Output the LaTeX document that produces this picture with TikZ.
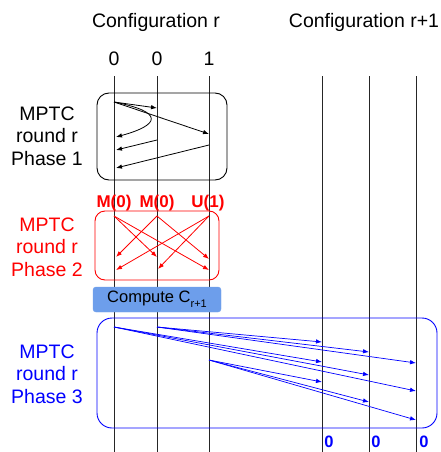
\documentclass[tikz,border=0pt]{standalone}
\usepackage{fontspec}
\setmainfont{Liberation Sans}
\usetikzlibrary{arrows.meta}
\definecolor{cbox}{RGB}{109,158,235}
\definecolor{myred}{RGB}{255,0,0}
\definecolor{myblue}{RGB}{0,0,255}
\begin{document}
\begin{tikzpicture}[x=1pt,y=-1pt,
  vline/.style={draw=black!85, line width=0.9pt},
  arr/.style={-{Latex[length=6pt,width=4.5pt]}, line width=0.8pt},
  lbl/.style={font=\fontsize{19.5}{22.5}\selectfont, align=center, inner sep=0pt},
  mlbl/.style={font=\fontsize{17}{20}\selectfont\bfseries, text=myred, inner sep=0pt, anchor=base},
  zlbl/.style={font=\fontsize{16.5}{20}\selectfont\bfseries, text=myblue, inner sep=0pt, anchor=base},
  phasebox/.style={draw, line width=0.9pt, inner sep=0pt}
]
\useasboundingbox (0,0) rectangle (441,452);
% vertical lines
\foreach \n/\x in {1/114,2/157,3/209,4/322,5/369,6/416}{
  \coordinate (t\n) at (\x,76);
  \coordinate (b\n) at (\x,452);
  \draw[vline] (t\n) -- (b\n);
}
% headers
\node[lbl, anchor=base] (cfg1) at (156,28) {Configuration r};
\node[lbl, anchor=base] (cfg2) at (364,28) {Configuration r+1};
\node[lbl, anchor=base] (v1) at (114,65) {0};
\node[lbl, anchor=base] (v2) at (157,65) {0};
\node[lbl, anchor=base] (v3) at (209,65) {1};
% left labels
\node[lbl] (lab1) at (47,136) {MPTC\\round r\\Phase 1};
\node[lbl, text=myred] (lab2) at (47,247) {MPTC\\round r\\Phase 2};
\node[lbl, text=myblue] (lab3) at (47,374) {MPTC\\round r\\Phase 3};
% boxes
\node[phasebox, draw=black, rounded corners=12pt, minimum width=130, minimum height=87] (ph1) at (162,136.5) {};
\node[phasebox, draw=myred, rounded corners=10pt, minimum width=124, minimum height=69] (ph2) at (157,245.5) {};
\node[phasebox, draw=myblue, rounded corners=15pt, minimum width=340, minimum height=110] (ph3) at (267,373) {};
% phase 1 arrows
\coordinate (p1s) at (114,102);
\coordinate (p1a) at (157,108);
\coordinate (p1b) at (209,134);
\coordinate (p1c) at (116,137);
\coordinate (p1d0) at (157,140);
\coordinate (p1d1) at (116,150);
\coordinate (p1e0) at (209,145);
\coordinate (p1e1) at (116,168);
\draw[arr] (p1s) -- (p1a);
\draw[arr] (p1s) -- (p1b);
\draw[arr] (p1s) .. controls (165,112) and (160,125) .. (p1c);
\draw[arr] (p1d0) -- (p1d1);
\draw[arr] (p1e0) -- (p1e1);
% phase 2
\node[mlbl] (m1) at (114,207) {M(0)};
\node[mlbl] (m2) at (157,207) {M(0)};
\node[mlbl] (m3) at (208,207) {U(1)};
\coordinate (r1) at (114,216);
\coordinate (r2) at (157,216);
\coordinate (r3) at (209,216);
\coordinate (r12) at (157,257);
\coordinate (r13) at (209,270);
\coordinate (r21) at (116,257);
\coordinate (r23) at (209,259);
\coordinate (r31) at (116,270);
\coordinate (r32) at (158,269);
\begin{scope}[draw=myred, myred]
\draw[arr] (r1) -- (r12);
\draw[arr] (r1) -- (r13);
\draw[arr] (r2) -- (r21);
\draw[arr] (r2) -- (r23);
\draw[arr] (r3) -- (r31);
\draw[arr] (r3) -- (r32);
\end{scope}
% compute box
\node[fill=cbox, draw=cbox, rounded corners=3pt, minimum width=128, minimum height=25, inner sep=0pt,
  font=\fontsize{16.5}{20}\selectfont] (comp) at (157,299.5) {Compute C\raisebox{-5pt}{\fontsize{11}{12}\selectfont r+1}};
% phase 3
\coordinate (s1) at (114,327);
\coordinate (s2) at (157,327);
\coordinate (s3) at (209,360);
\coordinate (e21) at (322,342);
\coordinate (e22) at (369,352);
\coordinate (e23) at (416,363);
\coordinate (e11) at (322,362);
\coordinate (e12) at (369,375);
\coordinate (e13) at (416,391);
\coordinate (e31) at (322,382);
\coordinate (e32) at (369,402);
\coordinate (e33) at (416,420);
\begin{scope}[draw=myblue, myblue]
\foreach \s in {1,2,3}{
  \foreach \e in {1,2,3}{
    \draw[arr, line width=0.7pt] (s\s) -- (e\s\e);
  }
}
\end{scope}
\node[zlbl] (z1) at (329,447) {0};
\node[zlbl] (z2) at (376,447) {0};
\node[zlbl] (z3) at (424,447) {0};
\end{tikzpicture}
\end{document}
